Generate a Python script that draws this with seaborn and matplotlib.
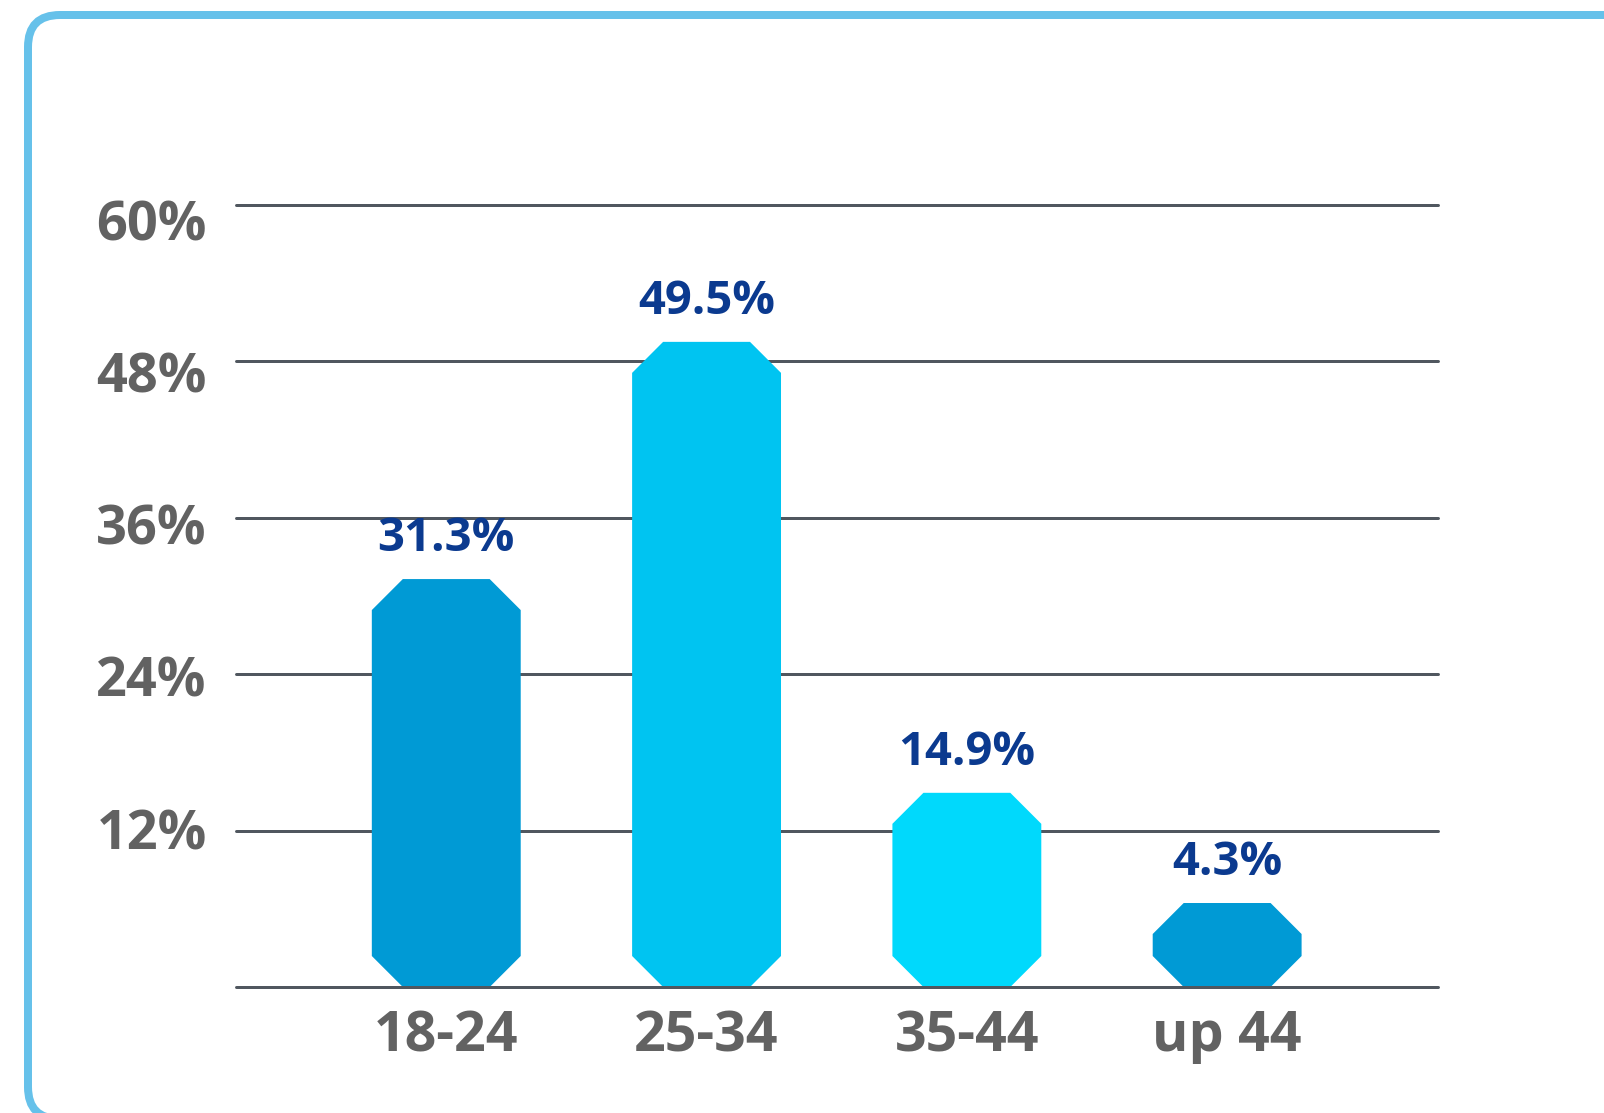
import matplotlib
matplotlib.use("Agg")
import matplotlib.pyplot as plt
import matplotlib.transforms as mtransforms
from matplotlib.patches import Polygon, FancyBboxPatch
import seaborn as sns
import pandas as pd

# ---- data ----
categories = ["18-24", "25-34", "35-44", "up 44"]
values = [31.3, 49.5, 14.9, 4.3]
value_labels = ["31.3%", "49.5%", "14.9%", "4.3%"]
bar_colors = ["#009ad5", "#00c4f1", "#00d9fc", "#009ad5"]
ytick_values = [12, 24, 36, 48, 60]
ytick_labels = ["12%", "24%", "36%", "48%", "60%"]
grid_values = [0, 12, 24, 36, 48, 60]

sns.set_theme(style="white")
plt.rcParams["font.family"] = ["Open Sans", "DejaVu Sans"]

DPI = 100
fig = plt.figure(figsize=(16.04, 11.13), dpi=DPI)
fig.patch.set_facecolor("white")

# rounded frame (partially off-canvas)
frame = FancyBboxPatch((28, -6), 1700, 1104,
                       boxstyle="round,pad=0,rounding_size=32",
                       transform=mtransforms.IdentityTransform(),
                       facecolor="none", edgecolor="#66c1ea",
                       linewidth=8 * 72 / DPI, clip_on=False)
fig.add_artist(frame)

ax = fig.add_axes([0.1471, 0.1132, 0.8965 - 0.1471, 0.8158 - 0.1132])
ax.set_facecolor("none")

df = pd.DataFrame({"cat": categories, "val": values})
sns.barplot(data=df, x="cat", y="val", hue="cat", palette=bar_colors,
            legend=False, width=0.572, ax=ax, saturation=1)

ax.set_xlim(-0.808, 3.81)
ax.set_ylim(0, 60)

# pixels per data unit
bb = ax.get_window_extent()
px_x = bb.width / (3.81 + 0.808)
px_y = bb.height / 60.0
chamfer_px = 31
cx = chamfer_px / px_x
cy = chamfer_px / px_y
min_h = (2 * chamfer_px + 22) / px_y

rects = list(ax.patches)
for rect, v, lab in zip(rects, values, value_labels):
    x0 = rect.get_x()
    w = rect.get_width()
    h = max(rect.get_height(), min_h)
    col = rect.get_facecolor()
    rect.remove()
    pts = [(x0 + cx, 0), (x0 + w - cx, 0), (x0 + w, cy), (x0 + w, h - cy),
           (x0 + w - cx, h), (x0 + cx, h), (x0, h - cy), (x0, cy)]
    ax.add_patch(Polygon(pts, closed=True, facecolor=col, edgecolor="none",
                         zorder=2))
    ax.annotate(lab, xy=(x0 + w / 2, h), xytext=(0, 20),
                textcoords="offset points", ha="center", va="baseline",
                fontsize=34, fontweight="bold", color="#0b3a8f", zorder=4)

# gridlines
for g in grid_values:
    ax.axhline(g, color="#50575f", linewidth=3 * 72 / DPI,
               zorder=3 if g == 0 else 1, clip_on=False)

for s in ax.spines.values():
    s.set_visible(False)

ax.set_yticks(ytick_values)
ax.set_yticklabels(ytick_labels)
ax.tick_params(axis="y", length=0, pad=21, labelsize=39, labelcolor="#626262")
ax.set_xticks(range(len(categories)))
ax.set_xticklabels(categories)
ax.tick_params(axis="x", length=0, pad=16, labelsize=40, labelcolor="#626262")
for t in ax.get_yticklabels() + ax.get_xticklabels():
    t.set_fontweight("bold")
# y labels sit progressively lower than their gridlines toward the top
for t, v in zip(ax.get_yticklabels(), ytick_values):
    off_px = -2 + (v - 12) / 48 * 17
    t.set_transform(t.get_transform() +
                    mtransforms.ScaledTranslation(0, -off_px / DPI,
                                                  fig.dpi_scale_trans))

ax.set_xlabel("")
ax.set_ylabel("")

fig.savefig("out.png", dpi=DPI)
